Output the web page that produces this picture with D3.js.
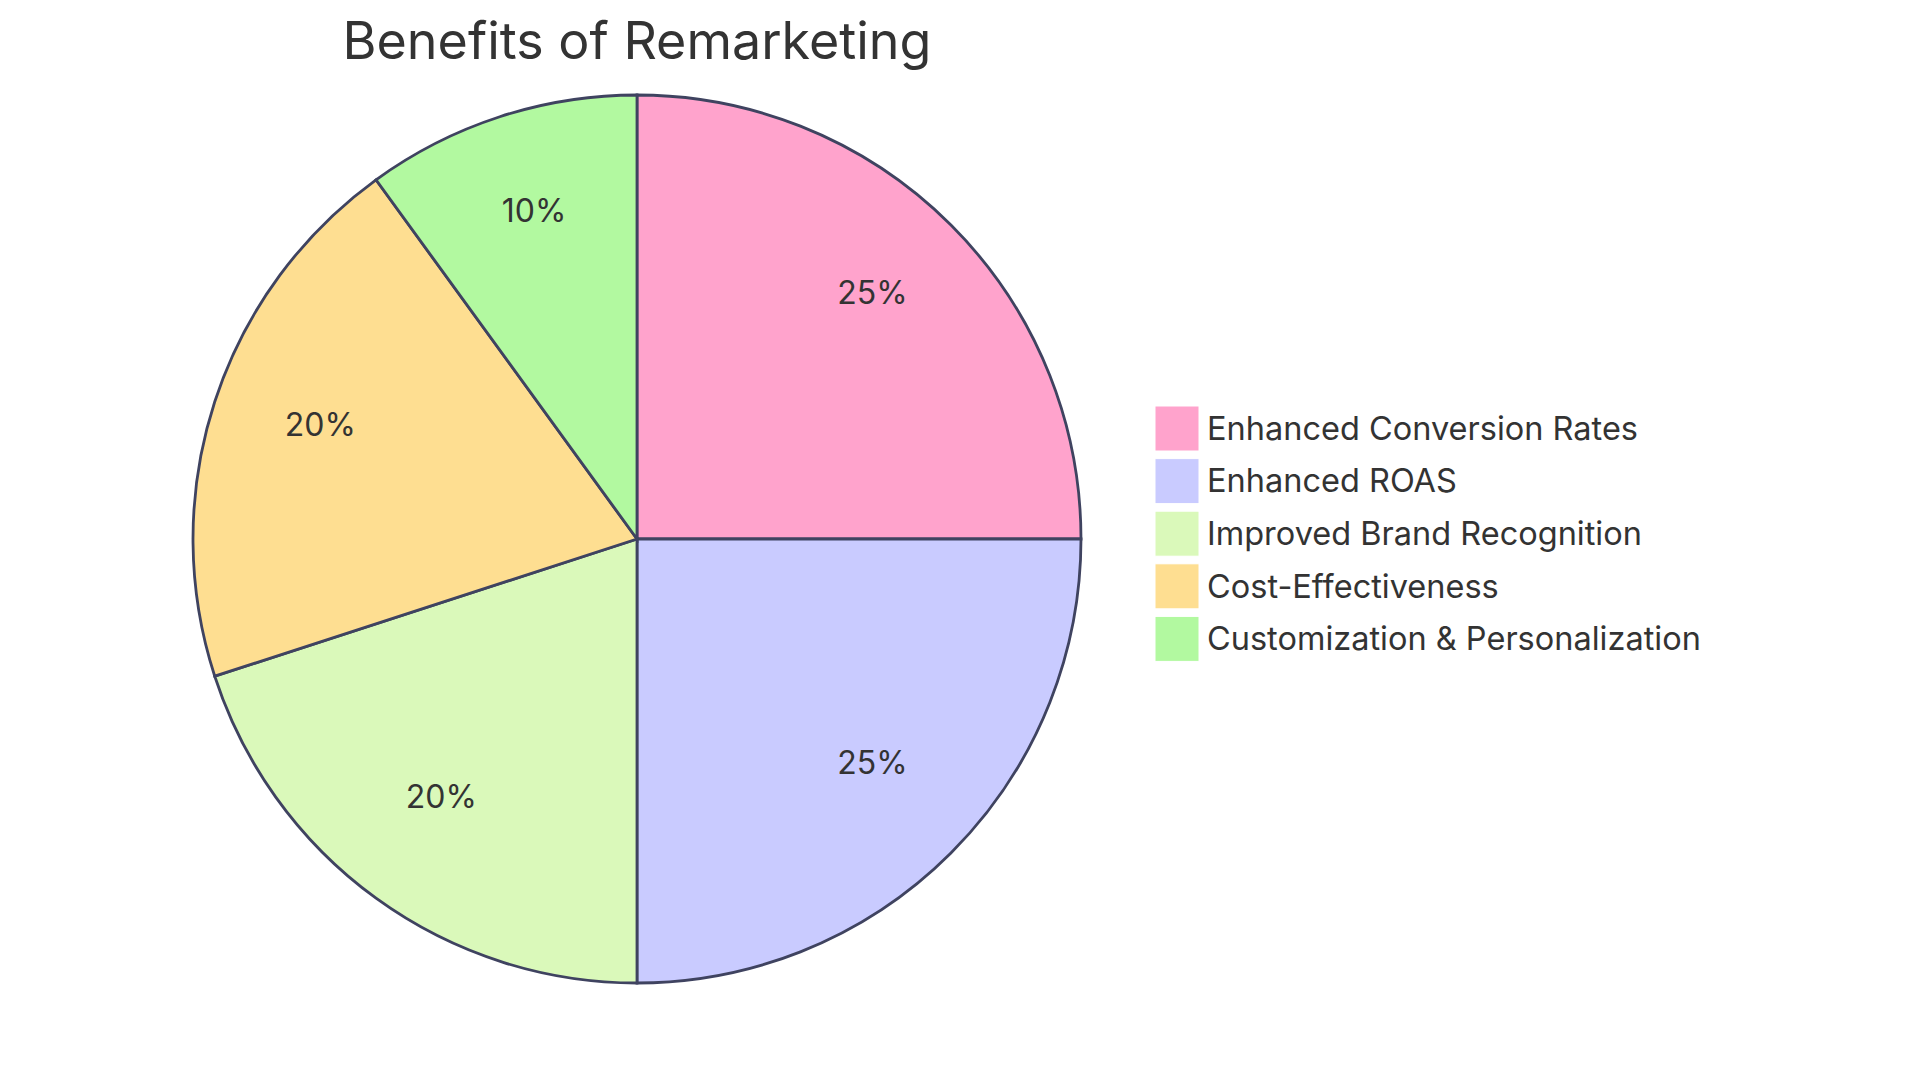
<!DOCTYPE html><html><head><meta charset="utf-8"><script src="https://cdn.jsdelivr.net/npm/d3@7"></script>
<style>body{margin:0;background:#fff}</style></head><body><svg id="c" width="1920" height="1083"></svg>
<script>
const categories=["Enhanced Conversion Rates","Enhanced ROAS","Improved Brand Recognition","Cost-Effectiveness","Customization & Personalization"];
const values=[25,25,20,20,10];
const colors=["#FFA3CC","#C9CBFF","#DAF9BA","#FEDE91","#B2F9A0"];
const svg=d3.select("#c");
const cx=637,cy=539,r=444;
const font="Inter, 'Noto Sans', sans-serif";
svg.append("text").attr("x",637).attr("y",59).attr("text-anchor","middle").attr("font-family",font).attr("font-size",52).attr("fill","#333").text("Benefits of Remarketing");
const pie=d3.pie().sort(null).value(d=>d)(values);
const arc=d3.arc().innerRadius(0).outerRadius(r);
const lab=d3.arc().innerRadius(r*0.75).outerRadius(r*0.75);
const g=svg.append("g").attr("transform",`translate(${cx},${cy})`);
g.selectAll("path").data(pie).join("path").attr("d",arc).attr("fill",(d,i)=>colors[i]).attr("stroke","#3f4360").attr("stroke-width",2.8);
g.selectAll("text").data(pie).join("text").attr("transform",d=>`translate(${lab.centroid(d)})`).attr("text-anchor","middle").attr("dy","0").attr("font-family",font).attr("font-size",32).attr("fill","#333").text(d=>d.data+"%");
const y=d3.scaleBand().domain(categories).range([406,669]);
const lg=svg.append("g");
categories.forEach((c,i)=>{
 lg.append("rect").attr("x",1155).attr("y",y(c)).attr("width",44).attr("height",45).attr("fill",colors[i]).attr("stroke","#fff").attr("stroke-width",1);
 lg.append("text").attr("x",1207).attr("y",y(c)+22.5).attr("dy","0.35em").attr("font-family",font).attr("font-size",32.5).attr("fill","#333").text(c);
});
</script></body></html>
